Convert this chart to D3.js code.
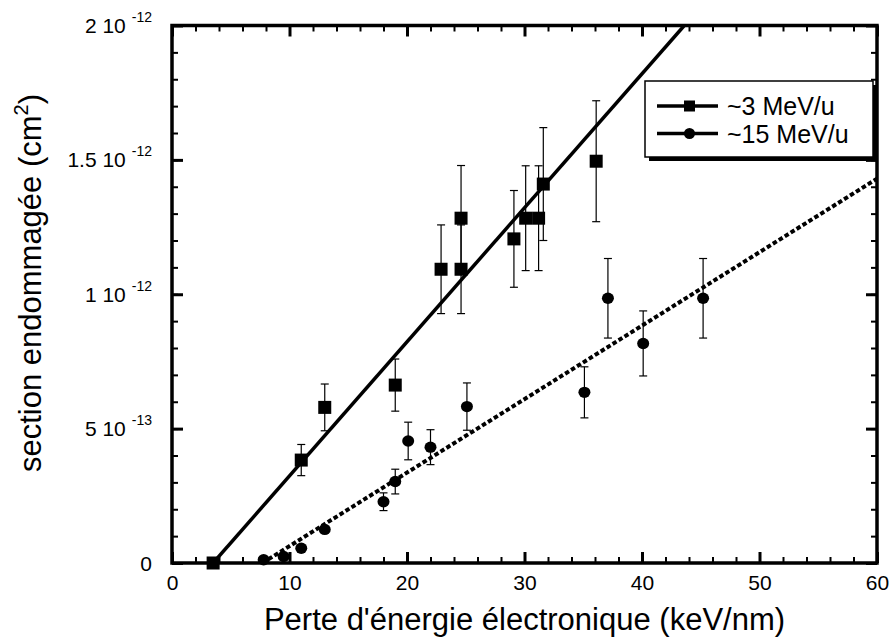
<!DOCTYPE html>
<html>
<head>
<meta charset="utf-8">
<script src="https://cdn.jsdelivr.net/npm/d3@7"></script>
<style>
  body { margin: 0; background: #fff; }
  svg { font-family: "Liberation Sans", Arial, sans-serif; }
</style>
</head>
<body>
<div id="main"></div>
<script>
// ~3 MeV/u (squares)
var energyLow  = [3.5, 11, 13, 19, 22.9, 24.6, 24.6, 29.1, 30.1, 31.2, 31.6, 36.1];
var sectionLow = [0, 0.383e-12, 0.579e-12, 0.662e-12, 1.093e-12, 1.093e-12, 1.283e-12, 1.206e-12, 1.283e-12, 1.283e-12, 1.41e-12, 1.495e-12];
var errLow     = [0, 0.058e-12, 0.087e-12, 0.097e-12, 0.165e-12, 0.165e-12, 0.196e-12, 0.18e-12, 0.195e-12, 0.195e-12, 0.21e-12, 0.225e-12];

// ~15 MeV/u (circles)
var energyHigh  = [7.8, 9.5, 11, 13, 18, 19, 20.1, 22, 25.1, 35.1, 37.1, 40.1, 45.2];
var sectionHigh = [0.012e-12, 0.024e-12, 0.055e-12, 0.125e-12, 0.228e-12, 0.303e-12, 0.454e-12, 0.431e-12, 0.582e-12, 0.635e-12, 0.985e-12, 0.817e-12, 0.985e-12];
var errHigh     = [0, 0, 0, 0, 0.033e-12, 0.046e-12, 0.07e-12, 0.065e-12, 0.088e-12, 0.095e-12, 0.148e-12, 0.121e-12, 0.148e-12];

// fit lines (end points)
var fitLowX  = [3.5, 43.6];
var fitLowY  = [0, 2.0e-12];
var fitHighX = [7.7, 60];
var fitHighY = [0, 1.43e-12];

var seriesNames = ["~3 MeV/u", "~15 MeV/u"];

var xTicks = [0, 10, 20, 30, 40, 50, 60];
var yTicks = [0, 5e-13, 1e-12, 1.5e-12, 2e-12];
var yTickMantissa = ["0", "5 10", "1 10", "1.5 10", "2 10"];
var yTickExp = ["", "-13", "-12", "-12", "-12"];

var margin = {top: 25.5, right: 14, bottom: 77, left: 172},
    width = 891 - margin.left - margin.right,
    height = 640 - margin.top - margin.bottom;

var svg = d3.select("#main")
  .append("svg")
    .attr("width", 891)
    .attr("height", 640)
  .append("g")
    .attr("transform", "translate(" + margin.left + "," + margin.top + ")");

var x = d3.scaleLinear().domain([0, 60]).range([0, width]);
var y = d3.scaleLinear().domain([0, 2e-12]).range([height, 0]);

var minorX = d3.range(0, 61, 2);
var minorY = d3.range(0, 21).map(function(i) { return i * 1e-13; });

function styleAxis(g, w) {
  g.select(".domain").remove();
  g.selectAll(".tick line").attr("stroke", "#000").attr("stroke-width", w);
}

// minor ticks on all four sides
svg.append("g").attr("transform", "translate(0," + height + ")")
  .call(d3.axisBottom(x).tickValues(minorX).tickSize(-6).tickFormat(""))
  .call(styleAxis, 2);
svg.append("g")
  .call(d3.axisTop(x).tickValues(minorX).tickSize(-6).tickFormat(""))
  .call(styleAxis, 2);
svg.append("g")
  .call(d3.axisLeft(y).tickValues(minorY).tickSize(-6).tickFormat(""))
  .call(styleAxis, 2);
svg.append("g").attr("transform", "translate(" + width + ",0)")
  .call(d3.axisRight(y).tickValues(minorY).tickSize(-6).tickFormat(""))
  .call(styleAxis, 2);

// major ticks
var xAxis = svg.append("g").attr("transform", "translate(0," + height + ")")
  .call(d3.axisBottom(x).tickValues(xTicks).tickSize(-11).tickPadding(12).tickFormat(d3.format("d")))
  .call(styleAxis, 3);
xAxis.selectAll("text")
  .attr("fill", "#000")
  .style("font-size", "21px")
  .style("font-family", "'Liberation Sans', Arial, sans-serif");

svg.append("g")
  .call(d3.axisTop(x).tickValues(xTicks).tickSize(-11).tickFormat(""))
  .call(styleAxis, 3);
svg.append("g")
  .call(d3.axisLeft(y).tickValues(yTicks).tickSize(-11).tickFormat(""))
  .call(styleAxis, 3);
svg.append("g").attr("transform", "translate(" + width + ",0)")
  .call(d3.axisRight(y).tickValues(yTicks).tickSize(-11).tickFormat(""))
  .call(styleAxis, 3);

// y tick labels with exponents
var yLab = svg.append("g").selectAll("text")
  .data(yTicks)
  .enter()
  .append("text")
    .attr("x", -20)
    .attr("y", function(d) { return y(d) + 7.5; })
    .attr("text-anchor", "end")
    .style("font-size", "21px");
yLab.append("tspan")
  .text(function(d, i) { return yTickMantissa[i]; });
yLab.append("tspan")
  .attr("dx", function(d, i) { return yTickExp[i] ? 6 : 0; })
  .attr("dy", -11)
  .style("font-size", "14px")
  .text(function(d, i) { return yTickExp[i]; });

// frame
svg.append("rect")
  .attr("x", 0).attr("y", 0)
  .attr("width", width).attr("height", height)
  .attr("fill", "none")
  .attr("stroke", "#000")
  .attr("stroke-width", 3.5);

// clip for fit lines
svg.append("clipPath").attr("id", "plotclip")
  .append("rect").attr("x", 0).attr("y", 0).attr("width", width).attr("height", height);

var line = d3.line()
  .x(function(d) { return x(d[0]); })
  .y(function(d) { return y(d[1]); });

svg.append("path")
  .datum(d3.zip(fitLowX, fitLowY))
  .attr("clip-path", "url(#plotclip)")
  .attr("d", line)
  .attr("fill", "none")
  .attr("stroke", "#000")
  .attr("stroke-width", 3.5);

svg.append("path")
  .datum(d3.zip(fitHighX, fitHighY))
  .attr("clip-path", "url(#plotclip)")
  .attr("d", line)
  .attr("fill", "none")
  .attr("stroke", "#000")
  .attr("stroke-width", 4)
  .attr("stroke-dasharray", "4.5,2.5");

// error bars
function errorBars(xs, ys, es) {
  var data = d3.zip(xs, ys, es).filter(function(d) { return d[2] > 0; });
  var g = svg.append("g").attr("stroke", "#000").attr("stroke-width", 1.2);
  g.selectAll(".v").data(data).enter().append("line")
    .attr("x1", function(d) { return x(d[0]); })
    .attr("x2", function(d) { return x(d[0]); })
    .attr("y1", function(d) { return y(d[1] + d[2]); })
    .attr("y2", function(d) { return y(d[1] - d[2]); });
  [1, -1].forEach(function(s) {
    g.selectAll(".c" + s).data(data).enter().append("line")
      .attr("x1", function(d) { return x(d[0]) - 4; })
      .attr("x2", function(d) { return x(d[0]) + 4; })
      .attr("y1", function(d) { return y(d[1] + s * d[2]); })
      .attr("y2", function(d) { return y(d[1] + s * d[2]); });
  });
}
errorBars(energyLow, sectionLow, errLow);
errorBars(energyHigh, sectionHigh, errHigh);

// markers
svg.append("g").selectAll("rect")
  .data(d3.zip(energyLow, sectionLow))
  .enter()
  .append("rect")
    .attr("x", function(d) { return x(d[0]) - 6.5; })
    .attr("y", function(d) { return y(d[1]) - 6.5; })
    .attr("width", 13)
    .attr("height", 13)
    .attr("fill", "#000");

svg.append("g").selectAll("ellipse")
  .data(d3.zip(energyHigh, sectionHigh))
  .enter()
  .append("ellipse")
    .attr("cx", function(d) { return x(d[0]); })
    .attr("cy", function(d) { return y(d[1]); })
    .attr("rx", 6)
    .attr("ry", 5.7)
    .attr("fill", "#000");

// legend
var lg = svg.append("g").attr("transform", "translate(" + (645 - margin.left) + "," + (81 - margin.top) + ")");
lg.append("rect")
  .attr("x", 4).attr("y", 4).attr("width", 228).attr("height", 76)
  .attr("fill", "#000");
lg.append("rect")
  .attr("x", 0).attr("y", 0).attr("width", 228).attr("height", 76)
  .attr("fill", "#fff").attr("stroke", "#000").attr("stroke-width", 1.5);

seriesNames.forEach(function(name, i) {
  var yy = 25 + i * 27.5;
  lg.append("line")
    .attr("x1", 12).attr("x2", 73).attr("y1", yy).attr("y2", yy)
    .attr("stroke", "#000").attr("stroke-width", 3.5);
  if (i === 0) {
    lg.append("rect").attr("x", 39).attr("y", yy - 5.5).attr("width", 11).attr("height", 11).attr("fill", "#000");
  } else {
    lg.append("circle").attr("cx", 44.5).attr("cy", yy).attr("r", 5.5).attr("fill", "#000");
  }
  lg.append("text")
    .attr("x", 82).attr("y", yy + 9)
    .style("font-size", "25px")
    .text(name);
});

// axis titles
svg.append("text")
  .attr("x", width / 2)
  .attr("y", height + 67)
  .attr("text-anchor", "middle")
  .style("font-size", "31px")
  .text("Perte d'énergie électronique (keV/nm)");

var yt = svg.append("text")
  .attr("transform", "translate(" + (41 - margin.left) + "," + (283 - margin.top) + ") rotate(-90)")
  .attr("text-anchor", "middle")
  .style("font-size", "31px");
yt.append("tspan").text("section endommagée (cm");
yt.append("tspan").attr("dy", -13).style("font-size", "20px").text("2");
yt.append("tspan").attr("dy", 13).text(")");
</script>
</body>
</html>
